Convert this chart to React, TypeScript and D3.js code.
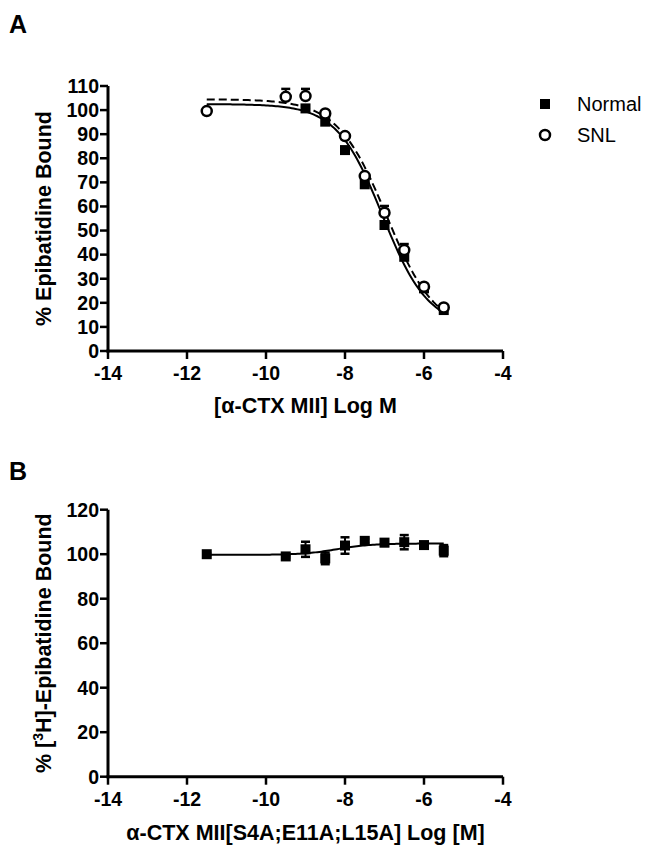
import React from "react";
import * as d3 from "d3";

// ---------- data ----------
const xTicks = [-14, -12, -10, -8, -6, -4];
const yTicksA = [0, 10, 20, 30, 40, 50, 60, 70, 80, 90, 100, 110];
const yTicksB = [0, 20, 40, 60, 80, 100, 120];

// Panel A – Normal (filled squares)
const normalLogM = [-9, -8.5, -8, -7.5, -7, -6.5, -6, -5.5];
const normalVals = [100.7, 95.2, 83.4, 69.2, 52.3, 39.1, 26, 17];

// Panel A – SNL (open circles)
const snlLogM = [-11.5, -9.5, -9, -8.5, -8, -7.5, -7, -6.5, -6, -5.5];
const snlVals = [99.6, 105.5, 105.8, 98.6, 89.2, 72.6, 57.4, 41.9, 26.7, 18.1];
const snlErr = [0, 3.3, 3.0, 0.5, 0.5, 0.5, 2.8, 2.5, 0.5, 0.5];

// Panel A fitted curves (4-parameter logistic)
const normalFit = { top: 102.5, bottom: 10, logIC50: -7.05, hill: 0.75 };
const snlFit = { top: 104.5, bottom: 8, logIC50: -6.95, hill: 0.7 };

// Panel B – mutant
const mutLogM = [-11.5, -9.5, -9, -8.5, -8, -7.5, -7, -6.5, -6, -5.5];
const mutVals = [100, 99, 102.2, 98.1, 103.9, 106, 105.2, 105.4, 104.1, 101.6];
const mutErr = [0.5, 0.5, 3.4, 2.6, 3.7, 1, 1.5, 3.2, 1, 2.5];
const mutFit = { bottom: 99.7, top: 104.8, logEC50: -8.2, hill: 1 };

const curveRange: [number, number] = [-11.5, -5.5];

// ---------- layout ----------
const W = 652;
const H = 854;
const FONT = "'Liberation Sans', Arial, Helvetica, sans-serif";
const TICK_FS = 19.5;
const LABEL_FS = 21.5;

const xA = d3.scaleLinear().domain([-14, -4]).range([108, 503]);
const yA = d3.scaleLinear().domain([0, 110]).range([351, 86]);
const xB = d3.scaleLinear().domain([-14, -4]).range([108, 503]);
const yB = d3.scaleLinear().domain([0, 120]).range([776.7, 509.7]);

const inhib = (p: { top: number; bottom: number; logIC50: number; hill: number }) => (x: number) =>
  p.bottom + (p.top - p.bottom) / (1 + Math.pow(10, (x - p.logIC50) * p.hill));
const stim = (p: { top: number; bottom: number; logEC50: number; hill: number }) => (x: number) =>
  p.bottom + (p.top - p.bottom) / (1 + Math.pow(10, (p.logEC50 - x) * p.hill));

const samples = d3.range(curveRange[0], curveRange[1] + 0.0001, 0.05);

function Axes({ x, y, yTicks }: { x: d3.ScaleLinear<number, number>; y: d3.ScaleLinear<number, number>; yTicks: number[] }) {
  const x0 = x.range()[0];
  const y0 = y.range()[0];
  const yTop = y(yTicks[yTicks.length - 1]);
  return (
    <g fontFamily={FONT} fontWeight="bold" fontSize={TICK_FS} fill="#000">
      <line x1={x0} x2={x0} y1={yTop} y2={y0 + 1.5} stroke="#000" strokeWidth={3} />
      <line x1={x0 - 1.5} x2={x.range()[1]} y1={y0} y2={y0} stroke="#000" strokeWidth={3} />
      {yTicks.map((t) => (
        <g key={"y" + t}>
          <line x1={x0 - 8} x2={x0} y1={y(t)} y2={y(t)} stroke="#000" strokeWidth={2.5} />
          <text x={x0 - 9} y={y(t)} dy="0.35em" textAnchor="end">
            {t}
          </text>
        </g>
      ))}
      {xTicks.map((t) => (
        <g key={"x" + t}>
          <line x1={x(t)} x2={x(t)} y1={y0} y2={y0 + 8} stroke="#000" strokeWidth={2.5} />
          <text x={x(t)} y={y0 + 29} textAnchor="middle">
            {t}
          </text>
        </g>
      ))}
    </g>
  );
}

export default function App() {
  const normalPath = d3.line<number>().x((d) => xA(d)).y((d) => yA(inhib(normalFit)(d)))(samples) || "";
  const snlPath = d3.line<number>().x((d) => xA(d)).y((d) => yA(inhib(snlFit)(d)))(samples) || "";
  const mutPath = d3.line<number>().x((d) => xB(d)).y((d) => yB(stim(mutFit)(d)))(samples) || "";

  const sq = 10;
  const cap = 9;

  return (
    <svg
      width={W}
      height={H}
      viewBox={`0 0 ${W} ${H}`}
      style={{ position: "absolute", left: 0, top: 0, background: "#fff", display: "block" }}
    >
      <rect width={W} height={H} fill="#fff" />

      {/* ---------- Panel A ---------- */}
      <text x={9} y={33} fontFamily={FONT} fontWeight="bold" fontSize={25}>A</text>
      <Axes x={xA} y={yA} yTicks={yTicksA} />

      <path d={normalPath} fill="none" stroke="#000" strokeWidth={2} />
      <path d={snlPath} fill="none" stroke="#000" strokeWidth={2} strokeDasharray="8,4" />

      {normalLogM.map((lx, i) => (
        <rect key={"n" + i} x={xA(lx) - sq / 2} y={yA(normalVals[i]) - sq / 2} width={sq} height={sq} fill="#000" />
      ))}
      {snlLogM.map((lx, i) => {
        const cx = xA(lx);
        const cy = yA(snlVals[i]);
        const top = yA(snlVals[i] + snlErr[i]);
        return (
          <g key={"s" + i}>
            <line x1={cx} x2={cx} y1={cy} y2={top} stroke="#000" strokeWidth={2} />
            <line x1={cx - cap / 2} x2={cx + cap / 2} y1={top} y2={top} stroke="#000" strokeWidth={2.5} />
            <circle cx={cx} cy={cy} r={5} fill="#fff" stroke="#000" strokeWidth={2.5} />
          </g>
        );
      })}

      <text
        transform={`translate(51,${(yA(0) + yA(110)) / 2}) rotate(-90)`}
        textAnchor="middle"
        fontFamily={FONT}
        fontWeight="bold"
        fontSize={LABEL_FS}
      >
        %  Epibatidine Bound
      </text>
      <text x={(xA(-14) + xA(-4)) / 2} y={413} textAnchor="middle" fontFamily={FONT} fontWeight="bold" fontSize={LABEL_FS}>
        [α-CTX MII] Log M
      </text>

      {/* legend */}
      <rect x={545 - sq / 2} y={104 - sq / 2} width={sq} height={sq} fill="#000" />
      <text x={577} y={104} dy="0.35em" fontFamily={FONT} fontSize={20}>Normal</text>
      <circle cx={545} cy={135} r={5} fill="#fff" stroke="#000" strokeWidth={2.5} />
      <text x={577} y={135} dy="0.35em" fontFamily={FONT} fontSize={20}>SNL</text>

      {/* ---------- Panel B ---------- */}
      <text x={9} y={480} fontFamily={FONT} fontWeight="bold" fontSize={25}>B</text>
      <Axes x={xB} y={yB} yTicks={yTicksB} />

      <path d={mutPath} fill="none" stroke="#000" strokeWidth={2} />
      {mutLogM.map((lx, i) => {
        const cx = xB(lx);
        const cy = yB(mutVals[i]);
        const t = yB(mutVals[i] + mutErr[i]);
        const b = yB(mutVals[i] - mutErr[i]);
        return (
          <g key={"m" + i}>
            <line x1={cx} x2={cx} y1={t} y2={b} stroke="#000" strokeWidth={2} />
            <line x1={cx - cap / 2} x2={cx + cap / 2} y1={t} y2={t} stroke="#000" strokeWidth={2.5} />
            <line x1={cx - cap / 2} x2={cx + cap / 2} y1={b} y2={b} stroke="#000" strokeWidth={2.5} />
            <rect x={cx - sq / 2} y={cy - sq / 2} width={sq} height={sq} fill="#000" />
          </g>
        );
      })}

      <text
        transform={`translate(51,${(yB(0) + yB(120)) / 2}) rotate(-90)`}
        textAnchor="middle"
        fontFamily={FONT}
        fontWeight="bold"
        fontSize={LABEL_FS}
      >
        %  [<tspan dy={-8} fontSize={14}>3</tspan><tspan dy={8}>H]-Epibatidine Bound</tspan>
      </text>
      <text x={(xB(-14) + xB(-4)) / 2} y={840} textAnchor="middle" fontFamily={FONT} fontWeight="bold" fontSize={LABEL_FS}>
        α-CTX MII[S4A;E11A;L15A] Log [M]
      </text>
    </svg>
  );
}
